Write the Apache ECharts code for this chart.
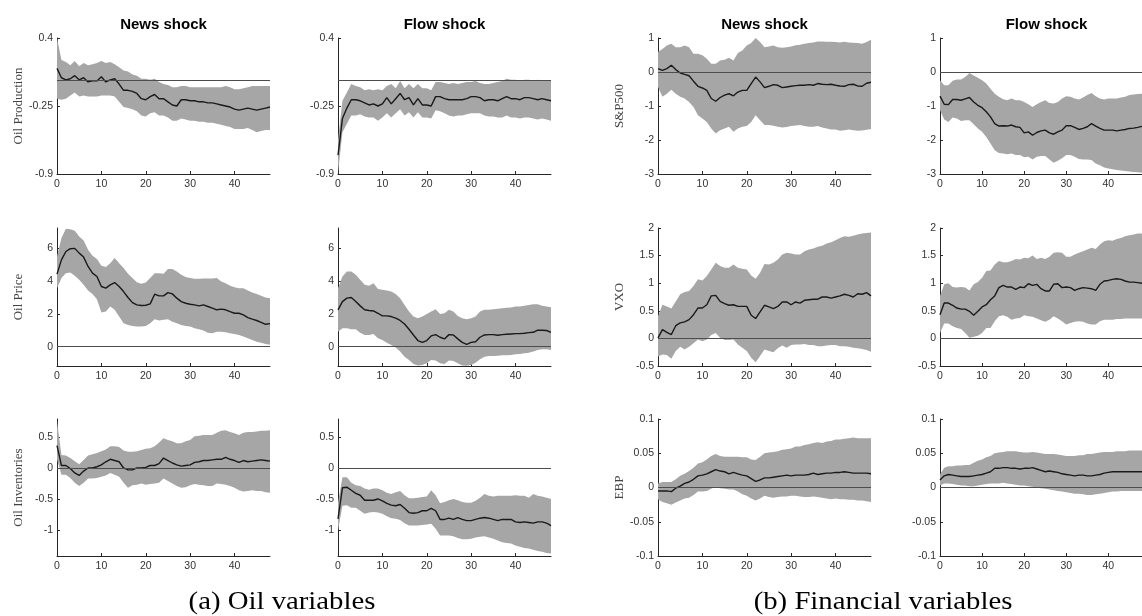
<!DOCTYPE html>
<html>
<head>
<meta charset="utf-8">
<script src="https://cdn.jsdelivr.net/npm/echarts@6/dist/echarts.min.js"></script>
<style>
  html, body { margin: 0; padding: 0; background: #ffffff; }
  #chart { width: 1142px; height: 616px; }
</style>
</head>
<body>
<div id="chart"></div>
<script>
// Impulse-response horizons (months after the shock)
const horizons = [0,1,2,3,4,5,6,7,8,9,10,11,12,13,14,15,16,17,18,19,20,21,22,23,24,25,26,27,28,29,30,31,32,33,34,35,36,37,38,39,40,41,42,43,44,45,46,47,48];
const xTicks = [0, 10, 20, 30, 40];

const shockTitles = ['News shock', 'Flow shock'];
const variableNames = ['Oil Production', 'Oil Price', 'Oil Inventories', 'S&P500', 'VXO', 'EBP'];
const captions = ['(a) Oil variables', '(b) Financial variables'];

// y-axis tick labels per variable
const prodTicks = [-0.9, -0.25, 0.4];
const priceTicks = [0, 2, 4, 6];
const invTicks = [-1, -0.5, 0, 0.5];
const spTicks = [-3, -2, -1, 0, 1];
const vxoTicks = [-0.5, 0, 0.5, 1, 1.5, 2];
const ebpTicks = [-0.1, -0.05, 0, 0.05, 0.1];

// ---- Oil production ----
const prodNewsMid = [0.11,0.02,0.00,0.01,0.04,0.00,0.02,-0.02,-0.01,-0.01,0.03,-0.02,0.00,0.01,-0.04,-0.10,-0.10,-0.11,-0.13,-0.18,-0.19,-0.16,-0.14,-0.18,-0.18,-0.21,-0.24,-0.25,-0.19,-0.19,-0.20,-0.20,-0.21,-0.21,-0.22,-0.22,-0.23,-0.24,-0.25,-0.26,-0.28,-0.29,-0.28,-0.27,-0.28,-0.29,-0.28,-0.27,-0.26];
const prodNewsHi = [0.40,0.19,0.17,0.14,0.18,0.13,0.16,0.14,0.15,0.16,0.18,0.16,0.17,0.15,0.12,0.09,0.08,0.05,0.04,0.01,0.01,0.00,0.01,-0.02,-0.04,-0.05,-0.07,-0.07,-0.06,-0.06,-0.07,-0.07,-0.07,-0.07,-0.07,-0.07,-0.07,-0.07,-0.06,-0.07,-0.09,-0.09,-0.08,-0.07,-0.06,-0.06,-0.06,-0.06,-0.06];
const prodNewsLo = [-0.18,-0.19,-0.18,-0.15,-0.12,-0.16,-0.15,-0.16,-0.16,-0.16,-0.15,-0.15,-0.15,-0.16,-0.21,-0.26,-0.27,-0.28,-0.30,-0.34,-0.35,-0.32,-0.31,-0.34,-0.34,-0.36,-0.39,-0.39,-0.37,-0.38,-0.39,-0.39,-0.40,-0.40,-0.41,-0.41,-0.42,-0.43,-0.44,-0.45,-0.47,-0.47,-0.47,-0.46,-0.48,-0.50,-0.49,-0.48,-0.48];
const prodFlowMid = [-0.72,-0.37,-0.27,-0.19,-0.19,-0.20,-0.22,-0.24,-0.23,-0.25,-0.23,-0.17,-0.23,-0.18,-0.13,-0.19,-0.17,-0.24,-0.18,-0.24,-0.24,-0.25,-0.16,-0.16,-0.18,-0.19,-0.19,-0.19,-0.19,-0.18,-0.16,-0.16,-0.17,-0.20,-0.19,-0.19,-0.20,-0.18,-0.16,-0.18,-0.18,-0.19,-0.17,-0.17,-0.18,-0.19,-0.18,-0.19,-0.20];
const prodFlowHi = [-0.58,-0.20,-0.12,-0.04,-0.06,-0.07,-0.10,-0.09,-0.10,-0.09,-0.10,-0.06,-0.04,-0.08,-0.01,-0.08,-0.04,-0.08,-0.04,-0.08,-0.08,-0.10,-0.02,-0.02,-0.03,-0.04,-0.03,-0.04,-0.03,-0.02,-0.02,-0.01,-0.03,-0.04,-0.04,-0.03,-0.02,-0.01,0.01,0.00,0.00,-0.01,0.00,0.00,-0.01,0.00,-0.01,-0.01,-0.01];
const prodFlowLo = [-0.89,-0.50,-0.42,-0.34,-0.34,-0.33,-0.35,-0.36,-0.36,-0.39,-0.36,-0.32,-0.36,-0.32,-0.28,-0.34,-0.31,-0.36,-0.31,-0.36,-0.36,-0.37,-0.29,-0.30,-0.32,-0.34,-0.35,-0.34,-0.34,-0.33,-0.32,-0.32,-0.32,-0.34,-0.35,-0.35,-0.36,-0.36,-0.34,-0.36,-0.36,-0.37,-0.36,-0.36,-0.37,-0.38,-0.37,-0.38,-0.39];

// ---- Oil price ----
const priceNewsMid = [4.41,5.28,5.79,5.96,5.98,5.69,5.45,4.88,4.47,4.27,3.66,3.56,3.76,3.90,3.66,3.35,2.99,2.68,2.54,2.50,2.52,2.60,3.19,3.09,3.09,3.29,3.21,2.95,2.74,2.64,2.58,2.54,2.48,2.54,2.44,2.34,2.24,2.28,2.24,2.13,2.03,2.03,1.93,1.77,1.67,1.59,1.48,1.36,1.40];
const priceNewsHi = [5.49,6.61,7.17,7.15,7.05,6.71,6.46,5.89,5.53,5.33,4.92,4.84,5.08,5.39,5.08,4.78,4.43,4.17,3.92,3.82,3.90,4.17,4.47,4.47,4.43,4.72,4.72,4.57,4.37,4.23,4.17,4.13,4.13,4.15,4.15,4.15,4.17,3.96,3.86,3.70,3.62,3.56,3.56,3.41,3.29,3.21,3.09,2.99,2.95];
const priceNewsLo = [3.56,4.17,4.47,4.51,4.31,4.07,3.76,3.41,3.21,2.89,2.07,2.13,2.44,2.24,1.83,1.42,1.32,1.26,1.22,1.22,1.26,1.42,1.67,1.59,1.63,1.67,1.52,1.42,1.32,1.26,1.22,1.12,1.06,0.98,0.85,0.81,0.91,0.91,0.87,0.81,0.77,0.71,0.61,0.51,0.41,0.30,0.24,0.16,0.12];
const priceFlowMid = [2.24,2.74,2.95,2.99,2.74,2.48,2.24,2.20,2.17,2.03,1.87,1.87,1.83,1.73,1.59,1.38,1.06,0.71,0.37,0.26,0.37,0.65,0.73,0.57,0.47,0.73,0.71,0.47,0.26,0.14,0.26,0.30,0.57,0.71,0.73,0.73,0.69,0.73,0.75,0.77,0.79,0.79,0.81,0.85,0.87,1.00,1.00,0.98,0.87];
const priceFlowHi = [3.56,4.27,4.57,4.57,4.37,4.07,3.76,3.70,3.86,3.50,3.46,3.41,3.35,3.21,2.95,2.54,2.13,1.83,1.73,1.83,1.99,2.13,2.28,1.99,2.03,2.24,2.13,1.87,1.73,1.67,1.73,1.83,2.13,2.24,2.24,2.28,2.30,2.34,2.36,2.38,2.44,2.44,2.48,2.54,2.58,2.58,2.48,2.44,2.40];
const priceFlowLo = [0.91,1.12,1.12,1.06,1.06,0.85,0.71,0.71,0.77,0.51,0.41,0.24,0.10,-0.06,-0.30,-0.61,-0.81,-1.06,-1.15,-1.12,-1.02,-0.81,-0.85,-1.02,-1.06,-0.85,-0.87,-1.02,-1.15,-1.17,-1.12,-0.98,-0.77,-0.61,-0.57,-0.57,-0.55,-0.53,-0.53,-0.51,-0.47,-0.45,-0.41,-0.37,-0.30,-0.20,-0.16,-0.16,-0.20];

// ---- Oil inventories ----
const invNewsMid = [0.37,0.05,0.05,0.00,-0.07,-0.11,-0.04,0.01,0.01,0.03,0.06,0.11,0.15,0.13,0.11,0.01,-0.02,-0.02,0.01,0.01,0.02,0.05,0.05,0.08,0.17,0.13,0.09,0.06,0.04,0.05,0.06,0.10,0.11,0.13,0.13,0.14,0.15,0.15,0.18,0.15,0.13,0.10,0.13,0.11,0.12,0.13,0.14,0.13,0.12];
const invNewsHi = [0.76,0.22,0.21,0.17,0.12,0.07,0.14,0.21,0.23,0.25,0.28,0.31,0.36,0.36,0.35,0.29,0.27,0.27,0.28,0.30,0.32,0.33,0.36,0.42,0.49,0.46,0.44,0.41,0.41,0.44,0.46,0.52,0.53,0.54,0.54,0.54,0.58,0.61,0.62,0.59,0.57,0.54,0.58,0.59,0.59,0.60,0.61,0.61,0.62];
const invNewsLo = [0.15,-0.10,-0.10,-0.15,-0.23,-0.28,-0.23,-0.16,-0.16,-0.15,-0.13,-0.11,-0.07,-0.10,-0.13,-0.23,-0.31,-0.27,-0.26,-0.24,-0.26,-0.25,-0.24,-0.23,-0.16,-0.20,-0.24,-0.28,-0.31,-0.30,-0.27,-0.25,-0.26,-0.27,-0.28,-0.28,-0.24,-0.25,-0.26,-0.28,-0.31,-0.35,-0.37,-0.36,-0.35,-0.36,-0.36,-0.38,-0.39];
const invFlowMid = [-0.81,-0.31,-0.30,-0.35,-0.40,-0.43,-0.51,-0.51,-0.51,-0.49,-0.52,-0.56,-0.59,-0.60,-0.58,-0.64,-0.71,-0.72,-0.71,-0.68,-0.68,-0.64,-0.68,-0.82,-0.82,-0.80,-0.82,-0.79,-0.82,-0.84,-0.84,-0.82,-0.80,-0.79,-0.80,-0.82,-0.84,-0.82,-0.82,-0.82,-0.86,-0.87,-0.86,-0.87,-0.88,-0.86,-0.86,-0.88,-0.92];
const invFlowHi = [-0.55,-0.14,-0.14,-0.23,-0.27,-0.28,-0.32,-0.34,-0.32,-0.32,-0.35,-0.39,-0.41,-0.38,-0.36,-0.43,-0.48,-0.48,-0.47,-0.46,-0.45,-0.35,-0.43,-0.56,-0.54,-0.51,-0.49,-0.51,-0.54,-0.55,-0.55,-0.52,-0.47,-0.41,-0.44,-0.45,-0.44,-0.44,-0.44,-0.44,-0.43,-0.44,-0.44,-0.47,-0.41,-0.44,-0.45,-0.47,-0.49];
const invFlowLo = [-1.00,-0.60,-0.59,-0.63,-0.63,-0.68,-0.73,-0.71,-0.70,-0.71,-0.73,-0.77,-0.80,-0.81,-0.83,-0.88,-0.92,-0.92,-0.92,-0.91,-0.90,-0.89,-0.97,-1.08,-1.08,-1.08,-1.09,-1.12,-1.14,-1.14,-1.13,-1.11,-1.10,-1.09,-1.11,-1.13,-1.16,-1.19,-1.20,-1.21,-1.24,-1.26,-1.28,-1.29,-1.31,-1.33,-1.34,-1.36,-1.37];

// ---- S&P500 ----
const spNewsMid = [0.10,0.05,0.10,0.20,0.07,-0.03,-0.07,-0.11,-0.27,-0.42,-0.47,-0.54,-0.78,-0.86,-0.75,-0.68,-0.64,-0.70,-0.59,-0.54,-0.54,-0.34,-0.15,-0.29,-0.46,-0.42,-0.37,-0.39,-0.46,-0.44,-0.42,-0.40,-0.39,-0.39,-0.37,-0.39,-0.34,-0.36,-0.37,-0.36,-0.39,-0.41,-0.42,-0.37,-0.36,-0.41,-0.42,-0.33,-0.30];
const spNewsHi = [0.59,0.68,0.78,0.83,0.73,0.73,0.78,0.73,0.54,0.54,0.49,0.39,0.24,0.24,0.34,0.36,0.42,0.34,0.56,0.63,0.78,0.85,1.00,0.88,0.73,0.75,0.78,0.73,0.71,0.73,0.75,0.79,0.80,0.83,0.85,0.87,0.90,0.90,0.89,0.89,0.88,0.87,0.89,0.87,0.86,0.85,0.83,0.88,0.95];
const spNewsLo = [-0.44,-0.73,-0.64,-0.52,-0.64,-0.73,-0.78,-0.88,-1.03,-1.27,-1.37,-1.47,-1.66,-1.81,-1.71,-1.66,-1.61,-1.76,-1.66,-1.61,-1.59,-1.47,-1.27,-1.42,-1.56,-1.56,-1.58,-1.61,-1.63,-1.62,-1.59,-1.57,-1.56,-1.59,-1.61,-1.61,-1.59,-1.63,-1.66,-1.69,-1.69,-1.73,-1.71,-1.69,-1.71,-1.73,-1.72,-1.70,-1.68];
const spFlowMid = [-0.71,-0.95,-0.96,-0.81,-0.81,-0.83,-0.79,-0.75,-0.88,-0.98,-1.05,-1.17,-1.32,-1.52,-1.59,-1.58,-1.59,-1.56,-1.61,-1.63,-1.79,-1.76,-1.86,-1.78,-1.73,-1.71,-1.79,-1.83,-1.76,-1.71,-1.58,-1.58,-1.63,-1.69,-1.66,-1.61,-1.52,-1.59,-1.66,-1.71,-1.71,-1.71,-1.73,-1.71,-1.69,-1.66,-1.65,-1.63,-1.60];
const spFlowHi = [-0.24,-0.39,-0.39,-0.26,-0.22,-0.22,-0.15,-0.03,-0.10,-0.17,-0.24,-0.34,-0.49,-0.64,-0.73,-0.80,-0.83,-0.78,-0.83,-0.83,-0.88,-0.95,-1.03,-0.95,-0.88,-0.83,-0.91,-0.93,-0.88,-0.78,-0.71,-0.73,-0.78,-0.81,-0.75,-0.68,-0.62,-0.71,-0.78,-0.81,-0.78,-0.78,-0.78,-0.75,-0.73,-0.68,-0.66,-0.65,-0.64];
const spFlowLo = [-1.12,-1.40,-1.47,-1.34,-1.37,-1.44,-1.42,-1.42,-1.54,-1.66,-1.76,-1.91,-2.10,-2.30,-2.38,-2.40,-2.42,-2.40,-2.44,-2.44,-2.51,-2.49,-2.57,-2.49,-2.47,-2.47,-2.57,-2.67,-2.61,-2.54,-2.44,-2.44,-2.49,-2.56,-2.57,-2.57,-2.59,-2.69,-2.74,-2.81,-2.84,-2.86,-2.88,-2.90,-2.91,-2.93,-2.94,-2.95,-2.96];

// ---- VXO ----
const vxoNewsMid = [0.01,0.16,0.11,0.07,0.23,0.28,0.30,0.34,0.43,0.55,0.55,0.61,0.77,0.78,0.67,0.63,0.60,0.61,0.58,0.58,0.58,0.42,0.36,0.48,0.60,0.57,0.54,0.58,0.66,0.66,0.61,0.66,0.64,0.69,0.70,0.71,0.71,0.75,0.75,0.73,0.75,0.77,0.80,0.78,0.75,0.81,0.80,0.83,0.77];
const vxoNewsHi = [0.40,0.61,0.58,0.54,0.67,0.80,0.84,0.86,0.95,1.07,1.05,1.13,1.25,1.37,1.31,1.28,1.28,1.34,1.28,1.26,1.25,1.14,1.08,1.19,1.35,1.34,1.37,1.43,1.52,1.55,1.54,1.52,1.52,1.58,1.61,1.63,1.66,1.68,1.72,1.74,1.78,1.82,1.85,1.84,1.86,1.88,1.90,1.91,1.92];
const vxoNewsLo = [-0.33,-0.29,-0.30,-0.37,-0.23,-0.15,-0.20,-0.15,-0.09,-0.02,-0.05,-0.02,0.06,0.10,0.01,-0.03,-0.03,-0.02,-0.11,-0.17,-0.23,-0.35,-0.43,-0.32,-0.20,-0.23,-0.25,-0.18,-0.13,-0.17,-0.12,-0.11,-0.11,-0.10,-0.12,-0.12,-0.14,-0.14,-0.13,-0.12,-0.12,-0.14,-0.14,-0.15,-0.17,-0.18,-0.19,-0.21,-0.24];
const vxoFlowMid = [0.43,0.64,0.64,0.60,0.55,0.53,0.53,0.49,0.42,0.49,0.57,0.61,0.70,0.77,0.92,0.96,0.93,0.93,0.89,0.93,0.92,0.99,0.96,0.98,0.90,0.86,0.86,0.98,0.99,0.92,0.93,0.92,0.87,0.90,0.92,0.91,0.90,0.87,0.98,1.04,1.05,1.07,1.08,1.07,1.04,1.02,1.02,1.01,1.00];
const vxoFlowHi = [0.77,0.98,1.00,0.93,0.92,0.93,0.92,0.87,0.98,1.02,1.10,1.22,1.23,1.34,1.40,1.38,1.38,1.40,1.44,1.43,1.46,1.45,1.50,1.44,1.46,1.44,1.48,1.55,1.56,1.55,1.48,1.48,1.52,1.55,1.58,1.61,1.64,1.62,1.70,1.76,1.78,1.77,1.80,1.82,1.85,1.87,1.88,1.90,1.90];
const vxoFlowLo = [0.10,0.27,0.27,0.22,0.19,0.17,0.10,0.01,0.03,0.05,0.10,0.19,0.19,0.31,0.40,0.42,0.39,0.34,0.36,0.37,0.42,0.40,0.39,0.36,0.33,0.30,0.34,0.40,0.36,0.31,0.25,0.28,0.30,0.31,0.30,0.27,0.25,0.25,0.31,0.34,0.34,0.34,0.35,0.35,0.36,0.36,0.36,0.36,0.36];

// ---- Excess bond premium ----
const ebpNewsMid = [-0.005,-0.005,-0.005,-0.006,-0.001,0.002,0.006,0.008,0.012,0.017,0.018,0.020,0.023,0.026,0.024,0.023,0.020,0.022,0.020,0.018,0.017,0.013,0.009,0.011,0.014,0.014,0.015,0.016,0.017,0.018,0.017,0.018,0.018,0.018,0.019,0.021,0.019,0.020,0.021,0.021,0.022,0.022,0.023,0.022,0.021,0.021,0.021,0.021,0.020];
const ebpNewsHi = [0.006,0.008,0.008,0.008,0.012,0.017,0.020,0.024,0.029,0.035,0.037,0.041,0.046,0.049,0.046,0.045,0.045,0.045,0.045,0.044,0.044,0.041,0.040,0.045,0.050,0.051,0.052,0.053,0.055,0.056,0.057,0.060,0.060,0.062,0.063,0.065,0.066,0.065,0.067,0.068,0.070,0.070,0.071,0.072,0.073,0.072,0.072,0.072,0.072];
const ebpNewsLo = [-0.017,-0.021,-0.023,-0.025,-0.022,-0.019,-0.016,-0.015,-0.011,-0.006,-0.006,-0.005,-0.002,0.001,-0.001,-0.002,-0.003,-0.003,-0.006,-0.010,-0.012,-0.016,-0.019,-0.016,-0.012,-0.014,-0.015,-0.014,-0.013,-0.013,-0.012,-0.012,-0.013,-0.014,-0.014,-0.013,-0.014,-0.015,-0.016,-0.017,-0.016,-0.017,-0.017,-0.018,-0.018,-0.019,-0.019,-0.020,-0.021];
const ebpFlowMid = [0.011,0.017,0.019,0.018,0.017,0.016,0.016,0.016,0.017,0.018,0.019,0.021,0.023,0.028,0.028,0.029,0.029,0.028,0.028,0.027,0.028,0.028,0.029,0.027,0.025,0.023,0.024,0.023,0.022,0.020,0.019,0.018,0.017,0.018,0.018,0.017,0.017,0.018,0.019,0.021,0.022,0.023,0.023,0.023,0.023,0.023,0.023,0.023,0.023];
const ebpFlowHi = [0.019,0.029,0.031,0.031,0.032,0.032,0.033,0.033,0.036,0.039,0.041,0.044,0.046,0.050,0.051,0.052,0.053,0.053,0.053,0.052,0.051,0.051,0.052,0.051,0.050,0.049,0.049,0.049,0.048,0.047,0.046,0.046,0.046,0.047,0.047,0.049,0.049,0.050,0.051,0.052,0.052,0.052,0.053,0.053,0.053,0.054,0.054,0.054,0.054];
const ebpFlowLo = [0.003,0.006,0.006,0.005,0.004,0.003,0.003,0.002,0.002,0.003,0.004,0.005,0.006,0.006,0.006,0.007,0.006,0.005,0.004,0.003,0.003,0.002,0.001,0.000,-0.001,-0.002,-0.003,-0.004,-0.005,-0.006,-0.007,-0.008,-0.009,-0.009,-0.010,-0.011,-0.011,-0.010,-0.009,-0.008,-0.007,-0.006,-0.006,-0.005,-0.005,-0.005,-0.005,-0.005,-0.005];

// Panel layout (pixels)
const colLeft = [57, 338, 658, 940];
const rowTop = [38, 228, 419];
const rowHeight = [136, 138, 137];
const plotWidth = 213;

const BAND = '#a6a6a6';
const LINE = '#1a1a1a';
const AXIS = '#262626';
const LABEL = '#333333';

// one entry per panel: [col, row, variable index, range, ticks, mid, lo, hi]
const panels = [
  [0, 0, 0, [-0.9, 0.4], prodTicks, prodNewsMid, prodNewsLo, prodNewsHi],
  [1, 0, 0, [-0.9, 0.4], prodTicks, prodFlowMid, prodFlowLo, prodFlowHi],
  [0, 1, 1, [-1.18, 7.22], priceTicks, priceNewsMid, priceNewsLo, priceNewsHi],
  [1, 1, 1, [-1.18, 7.22], priceTicks, priceFlowMid, priceFlowLo, priceFlowHi],
  [0, 2, 2, [-1.41, 0.8], invTicks, invNewsMid, invNewsLo, invNewsHi],
  [1, 2, 2, [-1.41, 0.8], invTicks, invFlowMid, invFlowLo, invFlowHi],
  [2, 0, 3, [-3, 1], spTicks, spNewsMid, spNewsLo, spNewsHi],
  [3, 0, 3, [-3, 1], spTicks, spFlowMid, spFlowLo, spFlowHi],
  [2, 1, 4, [-0.5, 2], vxoTicks, vxoNewsMid, vxoNewsLo, vxoNewsHi],
  [3, 1, 4, [-0.5, 2], vxoTicks, vxoFlowMid, vxoFlowLo, vxoFlowHi],
  [2, 2, 5, [-0.1, 0.1], ebpTicks, ebpNewsMid, ebpNewsLo, ebpNewsHi],
  [3, 2, 5, [-0.1, 0.1], ebpTicks, ebpFlowMid, ebpFlowLo, ebpFlowHi]
];

const grid = [], xAxis = [], yAxis = [], series = [];
const tickFont = { fontFamily: '"Liberation Sans", Arial, sans-serif', fontSize: 10.5, color: LABEL };

// confidence band: one polygon running along the upper bound and back along the lower bound
function bandRenderer(lo, hi) {
  return function (params, api) {
    const pts = [];
    for (let k = 0; k < horizons.length; k++) pts.push(api.coord([horizons[k], hi[k]]));
    for (let k = horizons.length - 1; k >= 0; k--) pts.push(api.coord([horizons[k], lo[k]]));
    return { type: 'polygon', shape: { points: pts }, style: { fill: BAND, stroke: null } };
  };
}

panels.forEach(([col, row, v, range, ticks, mid, lo, hi], i) => {
  grid.push({ left: colLeft[col], top: rowTop[row], width: plotWidth, height: rowHeight[row], containLabel: false });
  xAxis.push({
    gridIndex: i, type: 'value', min: 0, max: 48,
    axisLine: { show: true, onZero: false, lineStyle: { color: AXIS, width: 1 } },
    axisTick: { show: true, inside: true, length: 3, customValues: xTicks, lineStyle: { color: AXIS } },
    axisLabel: Object.assign({ customValues: xTicks, margin: 5 }, tickFont),
    splitLine: { show: false }
  });
  const firstCol = (col === 0 || col === 2);
  yAxis.push({
    gridIndex: i, type: 'value', min: range[0], max: range[1],
    axisLine: { show: true, onZero: false, lineStyle: { color: AXIS, width: 1 } },
    axisTick: { show: true, inside: true, length: 3, customValues: ticks, lineStyle: { color: AXIS } },
    axisLabel: Object.assign({ customValues: ticks, margin: 4 }, tickFont),
    splitLine: { show: false },
    name: firstCol ? variableNames[v] : '',
    nameLocation: 'middle', nameRotate: 90, nameGap: 32,
    nameTextStyle: { fontFamily: '"Liberation Serif", "Times New Roman", serif', fontSize: 13, color: '#444444' }
  });
  series.push({
    type: 'custom', xAxisIndex: i, yAxisIndex: i, coordinateSystem: 'cartesian2d',
    data: [[0, 0]], renderItem: bandRenderer(lo, hi), clip: true,
    silent: true, animation: false, z: 1
  });
  series.push({
    type: 'line', xAxisIndex: i, yAxisIndex: i,
    data: horizons.map((t, k) => [t, mid[k]]),
    symbol: 'none', lineStyle: { color: LINE, width: 1.4 }, silent: true, animation: false, z: 3,
    markLine: {
      silent: true, symbol: ['none', 'none'], animation: false,
      label: { show: false },
      lineStyle: { color: '#4d4d4d', width: 1, type: 'solid' },
      data: [{ yAxis: 0 }]
    }
  });
});

// column titles and group captions
const graphic = [];
colLeft.forEach((left, c) => {
  graphic.push({
    type: 'text', x: left + plotWidth / 2, y: 25, silent: true,
    style: { text: shockTitles[c % 2], fill: '#000', font: 'bold 15px "Liberation Sans", Arial, sans-serif',
             textAlign: 'center', textVerticalAlign: 'middle' }
  });
});
[282, 883].forEach((cx, k) => {
  graphic.push({
    type: 'text', x: cx, y: 602, scaleX: 1.15, silent: true,
    style: { text: captions[k], fill: '#000', font: '25px "Liberation Serif", "Times New Roman", serif',
             textAlign: 'center', textVerticalAlign: 'middle' }
  });
});

const chart = echarts.init(document.getElementById('chart'), null, { renderer: 'canvas' });
chart.setOption({
  backgroundColor: '#ffffff',
  animation: false,
  grid: grid, xAxis: xAxis, yAxis: yAxis, series: series, graphic: graphic
});
</script>
</body>
</html>
